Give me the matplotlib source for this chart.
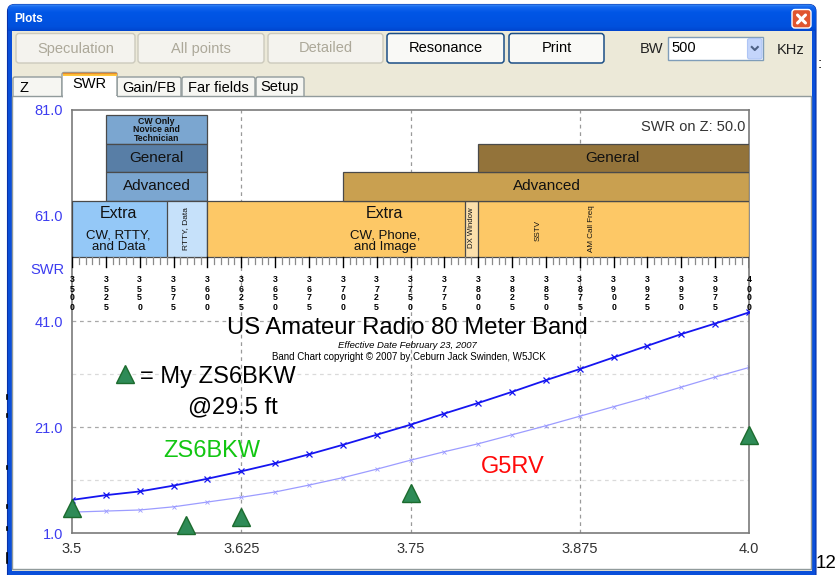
import numpy as np
import matplotlib
matplotlib.use("Agg")
import matplotlib.pyplot as plt
from matplotlib.patches import Rectangle, FancyBboxPatch

plt.rcParams["font.family"] = ["Liberation Sans", "DejaVu Sans"]

# ---------------------------------------------------------------- data
freq_mhz = [3.500, 3.525, 3.550, 3.575, 3.600, 3.625, 3.650, 3.675, 3.700,
            3.725, 3.750, 3.775, 3.800, 3.825, 3.850, 3.875, 3.900, 3.925,
            3.950, 3.975, 4.000]
swr_zs6bkw = [7.3, 8.2, 8.9, 10.0, 11.3, 12.7, 14.2, 15.9, 17.7, 19.6, 21.5,
              23.6, 25.6, 27.7, 29.9, 32.0, 34.2, 36.4, 38.6, 40.6, 42.7]
swr_g5rv = [5.0, 5.2, 5.4, 6.0, 6.9, 7.8, 8.8, 10.1, 11.5, 13.1, 14.8,
            16.4, 17.9, 19.6, 21.3, 23.1, 24.9, 26.7, 28.6, 30.5, 32.3]

measured_freq = [3.500, 3.584, 3.625, 3.750, 4.000]
measured_swr = [5.7, 2.6, 4.1, 8.7, 19.5]

x_ticks = [3.5, 3.625, 3.75, 3.875, 4.0]
x_tick_labels = ["3.5", "3.625", "3.75", "3.875", "4.0"]
y_ticks = [1, 21, 41, 61, 81]
y_tick_labels = ["1.0", "21.0", "41.0", "61.0", "81.0"]
v_grid = [3.625, 3.75, 3.875]
h_grid_major = [21, 41]
h_grid_minor = [11, 31]

# 80 m band plan segments (MHz)
seg_names = ["novice", "general_cw", "advanced_cw", "extra_cw", "rtty",
             "extra_phone", "dx", "advanced_phone", "general_phone"]
seg_start = [3.525, 3.525, 3.525, 3.500, 3.570, 3.600, 3.790, 3.700, 3.800]
seg_end = [3.600, 3.600, 3.600, 3.600, 3.600, 4.000, 3.800, 4.000, 4.000]
scale_khz = list(range(3500, 4001, 25))
scale_minor_khz = list(range(3500, 4001, 5))

# ---------------------------------------------------------------- figure
W, H = 836, 575
fig = plt.figure(figsize=(W / 100, H / 100), dpi=100, facecolor="white")

bg = fig.add_axes([0, 0, 1, 1], zorder=0)
bg.set_xlim(0, W)
bg.set_ylim(H, 0)
bg.axis("off")


def rect(a, x0, y0, x1, y1, **kw):
    p = Rectangle((x0, y0), x1 - x0, y1 - y0, **kw)
    a.add_patch(p)
    return p


def rbox(a, x0, y0, x1, y1, r=3, **kw):
    p = FancyBboxPatch((x0, y0), x1 - x0, y1 - y0,
                       boxstyle=f"round,pad=0,rounding_size={r}", **kw)
    a.add_patch(p)
    return p


UI = dict(fontsize=10.5, va="center")

# window frame and title bar
frame = rbox(bg, 7.5, 4.5, 816, 600, r=7, facecolor="#0A4FD9",
             edgecolor="#0831A8", lw=0.8)
stops = np.array([[0x3E, 0x90, 0xF8], [0x16, 0x68, 0xEE], [0x00, 0x56, 0xE6],
                  [0x00, 0x53, 0xE2], [0x00, 0x50, 0xDC], [0x00, 0x45, 0xCF]]) / 255
pos = np.array([0, 0.1, 0.3, 0.6, 0.85, 1.0])
t = np.linspace(0, 1, 40)
grad = np.stack([np.interp(t, pos, stops[:, k]) for k in range(3)], axis=-1)[:, None, :]
im = bg.imshow(grad, extent=(7.5, 816, 31, 4.5), aspect="auto",
               origin="upper", zorder=1)
im.set_clip_path(frame)
bg.text(14, 18.5, "Plots", color="white", fontsize=8.5, fontweight="bold",
        va="center", zorder=3)
rbox(bg, 792, 9.5, 811, 28, r=3, facecolor="#E0552F", edgecolor="white",
     lw=1.0, zorder=3)
bg.plot([797.5, 805.5], [15, 23], color="white", lw=2.2, zorder=4,
        solid_capstyle="round")
bg.plot([805.5, 797.5], [15, 23], color="white", lw=2.2, zorder=4,
        solid_capstyle="round")

# window body
rect(bg, 11.5, 31, 812, 571, facecolor="#ECE9D8", edgecolor="none", zorder=1)

# toolbar buttons
buttons = [("Speculation", 16, 135, False), ("All points", 138, 264, False),
           ("Detailed", 268, 383, False), ("Resonance", 387, 504, True),
           ("Print", 509, 604, True)]
for label, x0, x1, enabled in buttons:
    if enabled:
        rbox(bg, x0, 33.5, x1, 63, r=3, facecolor="#F9F9F6",
             edgecolor="#1C4F86", lw=1.1, zorder=2)
        col = "black"
    else:
        rbox(bg, x0, 33.5, x1, 63, r=3, facecolor="#F4F3EE",
             edgecolor="#CCCABD", lw=1.0, zorder=2)
        col = "#ACA899"
    bg.text((x0 + x1) / 2, 48.5, label, color=col, ha="center", zorder=3, **UI)

bg.text(640, 49, "BW", color="#222222", ha="left", zorder=3, **UI)
rect(bg, 668, 37, 763, 60, facecolor="white", edgecolor="#7F9DB9", lw=1,
     zorder=2)
bg.text(671, 48.5, "500", color="black", ha="left", zorder=3, **UI)
rbox(bg, 747.5, 38.5, 762, 59, r=2, facecolor="#C4D5FB", edgecolor="#AFC5F5",
     lw=0.8, zorder=3)
bg.plot([751.8, 754.8, 757.8], [47, 50, 47], color="#4D6185", lw=1.5,
        zorder=4)
bg.text(777, 50, "KHz", color="#222222", ha="left", zorder=3, **UI)

# tabs
tabs = [("Z", 13, 62), ("Gain/FB", 117, 181), ("Far fields", 182, 255),
        ("Setup", 256, 304)]
for label, x0, x1 in tabs:
    rbox(bg, x0, 77, x1, 100, r=2, facecolor="#F6F6F2", edgecolor="#919B9C",
         lw=1, zorder=2)
    if label == "Z":
        bg.text(x0 + 7, 87.5, label, ha="left", zorder=3, **UI)
    else:
        bg.text((x0 + x1) / 2, 87.5, label, ha="center", zorder=3, **UI)
rect(bg, 12, 96, 810.5, 568.5, facecolor="white", edgecolor="#919B9C",
     lw=1, zorder=3)
rbox(bg, 62, 72.5, 117, 97, r=2, facecolor="white", edgecolor="#919B9C",
     lw=1, zorder=4)
rect(bg, 62.5, 96, 116.5, 98, facecolor="white", edgecolor="none", zorder=5)
rect(bg, 62.5, 72.5, 116.5, 75.5, facecolor="#FFC83C", edgecolor="none",
     zorder=5)
bg.plot([63, 116], [72.8, 72.8], color="#E68B2C", lw=1, zorder=6)
bg.text(89.5, 84, "SWR", ha="center", zorder=6, **UI)

# axis caption on the left
bg.text(64, 270, "SWR", color="#3C3CF0", ha="right", va="center",
        fontsize=10.5, zorder=6)

# stray marks at the edges of the capture
for y0, y1 in [(395, 399), (414, 417), (466, 469), (505, 508), (527, 530),
               (553, 563)]:
    bg.plot([6.5, 6.5], [y0, y1], color="black", lw=1.2, zorder=6)
bg.text(817.5, 64, ":", fontsize=11, va="center", ha="left", zorder=6)
bg.text(815.5, 564, "12", fontsize=13.5, va="center", ha="left", zorder=6)

# ---------------------------------------------------------------- SWR plot
Y_BOT, Y_TOP, X_L, X_R = 533.3, 109.5, 72, 749
rect_main = [X_L / W, 1 - Y_BOT / H, (X_R - X_L) / W, (Y_BOT - Y_TOP) / H]
ax = fig.add_axes(rect_main, zorder=2)
ax.set_xlim(3.5, 4.0)
ax.set_ylim(1, 81)
ax.set_facecolor("white")
for s in ax.spines.values():
    s.set_color("#7A7A7A")
    s.set_linewidth(1.2)
ax.set_xticks(x_ticks, x_tick_labels)
ax.set_yticks(y_ticks, y_tick_labels)
ax.tick_params(length=0, labelsize=10.5, pad=6.5)
ax.tick_params(axis="y", labelcolor="#3C3CF0")
ax.tick_params(axis="x", labelcolor="#333333")

for v in v_grid:
    ax.axvline(v, color="#9A9A9A", ls=(0, (3, 3)), lw=0.9, zorder=0.5)
for h in h_grid_major:
    ax.axhline(h, color="#A8A8A8", ls=(0, (3, 3)), lw=0.9, zorder=0.5)
for h in h_grid_minor:
    ax.axhline(h, color="#DADADA", ls=(0, (3, 3)), lw=0.9, zorder=0.5)

ax.plot(freq_mhz, swr_g5rv, color="#9C9CFF", lw=0.9, marker="x", ms=3,
        mew=0.6, zorder=2)
ax.plot(freq_mhz, swr_zs6bkw, color="#1515F0", lw=1.3, marker="x", ms=5,
        mew=0.9, zorder=3)
tri = dict(ls="none", marker="^", ms=12.5, mfc="#2E8B57", mec="#1C6B2E",
           mew=1.0, clip_on=False, zorder=4)
ax.plot(measured_freq, measured_swr, **tri)

ax.plot([3.5394], [31.1], **tri)
ax.text(3.5502, 29.4, "= My ZS6BKW", fontsize=17, color="black",
        ha="left", va="baseline")
ax.text(3.5854, 23.65, "@29.5 ft", fontsize=17, color="black",
        ha="left", va="baseline")
ax.text(3.5672, 15.45, "ZS6BKW", fontsize=17, color="#12C612",
        ha="left", va="baseline")
ax.text(3.8020, 12.45, "G5RV", fontsize=17, color="#FF0A0A",
        ha="left", va="baseline")

# ---------------------------------------------------------------- band chart
band = fig.add_axes(rect_main, zorder=3)
band.set_xlim(3.5, 4.0)
band.set_ylim(Y_BOT, Y_TOP)
band.axis("off")

rows = {"r0": (115.3, 144), "r1": (144, 172.3), "r2": (172.3, 200.7),
        "r3": (200.7, 257)}
seg_style = {
    "novice": ("r0", "#7BA6D0"),
    "general_cw": ("r1", "#587EA6"),
    "advanced_cw": ("r2", "#7BA6D0"),
    "extra_cw": ("r3", "#94C8F7"),
    "rtty": ("r3", "#C6E1FA"),
    "extra_phone": ("r3", "#FDC866"),
    "dx": ("r3", "#FCE0AC"),
    "advanced_phone": ("r2", "#C9A050"),
    "general_phone": ("r1", "#93733A"),
}
for name, f0, f1 in zip(seg_names, seg_start, seg_end):
    row, col = seg_style[name]
    y0, y1 = rows[row]
    rect(band, f0, y0, f1, y1, facecolor=col, edgecolor="#4A4A4A", lw=0.9)

blk = dict(ha="center", va="center", color="#111111")
band.text(3.5625, 129.6, "CW Only\nNovice and\nTechnician", fontsize=6.3,
          fontweight="bold", linespacing=0.92, **blk)
band.text(3.5625, 158.2, "General", fontsize=11, **blk)
band.text(3.5625, 186.5, "Advanced", fontsize=11, **blk)
band.text(3.5345, 213.5, "Extra", fontsize=11.5, **blk)
band.text(3.5345, 241, "CW, RTTY,\nand Data", fontsize=9.5, linespacing=0.9,
          **blk)
band.text(3.5835, 229, "RTTY, Data", fontsize=6, rotation=90, **blk)
band.text(3.7310, 213.5, "Extra", fontsize=11.5, **blk)
band.text(3.7310, 241, "CW, Phone,\nand Image", fontsize=9.5,
          linespacing=0.9, **blk)
band.text(3.7947, 228, "DX Window", fontsize=5.6, rotation=90, **blk)
band.text(3.8440, 230, "SSTV", fontsize=5.8, rotation=90, **blk)
band.text(3.8837, 229, "AM Call Freq", fontsize=5.8, rotation=90, **blk)
band.text(3.8505, 186.5, "Advanced", fontsize=11, **blk)
band.text(3.8990, 158.2, "General", fontsize=11, **blk)

# kHz scale
for k in scale_minor_khz:
    if k % 25:
        band.plot([k / 1000, k / 1000], [257, 263.5], color="#8A8A8A", lw=0.9)
for k in scale_khz:
    band.plot([k / 1000, k / 1000], [257, 267], color="black", lw=1.0)
    band.text(k / 1000, 293.5, "\n".join(str(k)), fontsize=6.3,
              fontweight="bold", ha="center", va="center", color="black",
              linespacing=1.0)

band.text(3.748, 328.5, "US Amateur Radio 80 Meter Band", fontsize=17.2,
          ha="center", va="center", color="black")
band.text(3.748, 345, "Effective Date February 23, 2007", fontsize=6.8,
          style="italic", ha="center", va="center", color="black")
band.text(3.749, 356.5,
          "Band Chart copyright \u00a9 2007 by Ceburn Jack Swinden, W5JCK",
          fontsize=7, ha="center", va="center", color="black")
band.text(3.9975, 127, "SWR on Z: 50.0", fontsize=10.5, ha="right",
          va="center", color="#333333")

fig.savefig("out.png", dpi=100)
